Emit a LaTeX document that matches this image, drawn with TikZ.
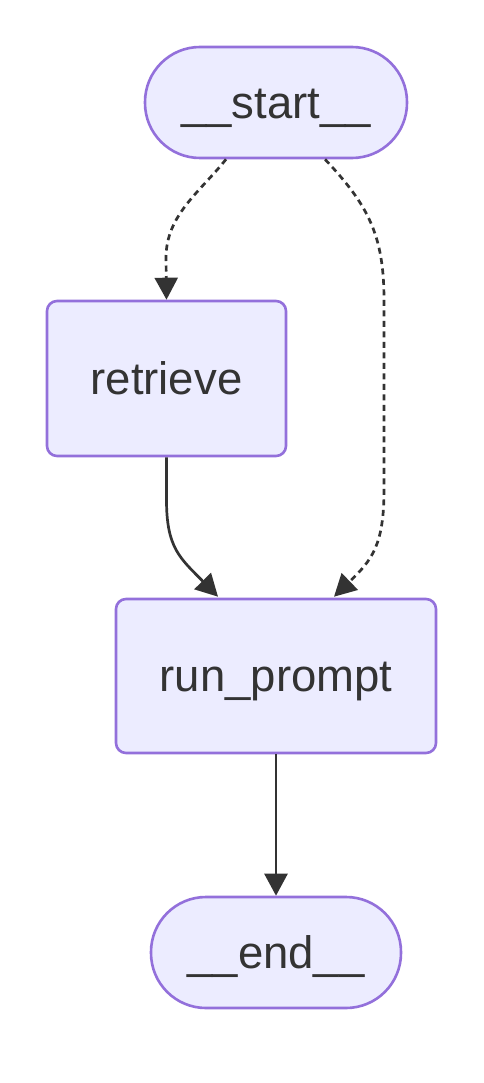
\documentclass[tikz,border=0pt]{standalone}
\usepackage{fontspec}
\setmainfont{Liberation Sans}
\usetikzlibrary{arrows.meta,calc}
\definecolor{nodefill}{HTML}{ECECFF}
\definecolor{nodeborder}{HTML}{9370DB}
\definecolor{edgecol}{HTML}{333333}
\tikzset{
  base/.style={draw=nodeborder, fill=nodefill, line width=2.6pt, text=edgecol,
    font=\fontsize{45.5}{50}\selectfont, inner sep=0pt, text height=41pt, text depth=9.6pt},
  stadium/.style={base, rounded corners=55pt, minimum height=111pt},
  procbox/.style={base, rounded corners=10pt},
  edge/.style={draw=edgecol, line width=2.7pt, -{Triangle[width=23pt,length=22pt]}},
  dashedge/.style={edge, dash pattern=on 6pt off 4.5pt},
}
\begin{document}
\begin{tikzpicture}[x=1pt,y=-1pt]
\useasboundingbox (0,0) rectangle (483,1083);
\node[stadium, minimum width=262pt] (start) at (276,102.5) {\_\_start\_\_};
\node[procbox, minimum width=239pt, minimum height=155pt] (retrieve) at (166.5,378.5) {retrieve};
\node[procbox, minimum width=320pt, minimum height=154pt] (run) at (276,676) {run\_prompt};
\node[stadium, minimum width=250pt] (end) at (276,952.5) {\_\_end\_\_};
% start -> retrieve
\draw[dashedge] ($(start.south)+(-50,0)$) .. controls (200,192) and (166,215) .. (166,258) -- (retrieve.north);
% start -> run_prompt
\draw[dashedge] ($(start.south)+(49,0)$) .. controls (368,205) and (384,235) .. (384,300)
  -- (384,490) .. controls (384,545) and (372,560) .. ($(run.north)+(58,-1)$);
% retrieve -> run_prompt
\draw[edge] (retrieve.south) -- (166.5,500) .. controls (166.5,548) and (180,558) .. ($(run.north)+(-58,-1)$);
% run_prompt -> end
\draw[edge] (run.south) -- (end.north);
\end{tikzpicture}
\end{document}
